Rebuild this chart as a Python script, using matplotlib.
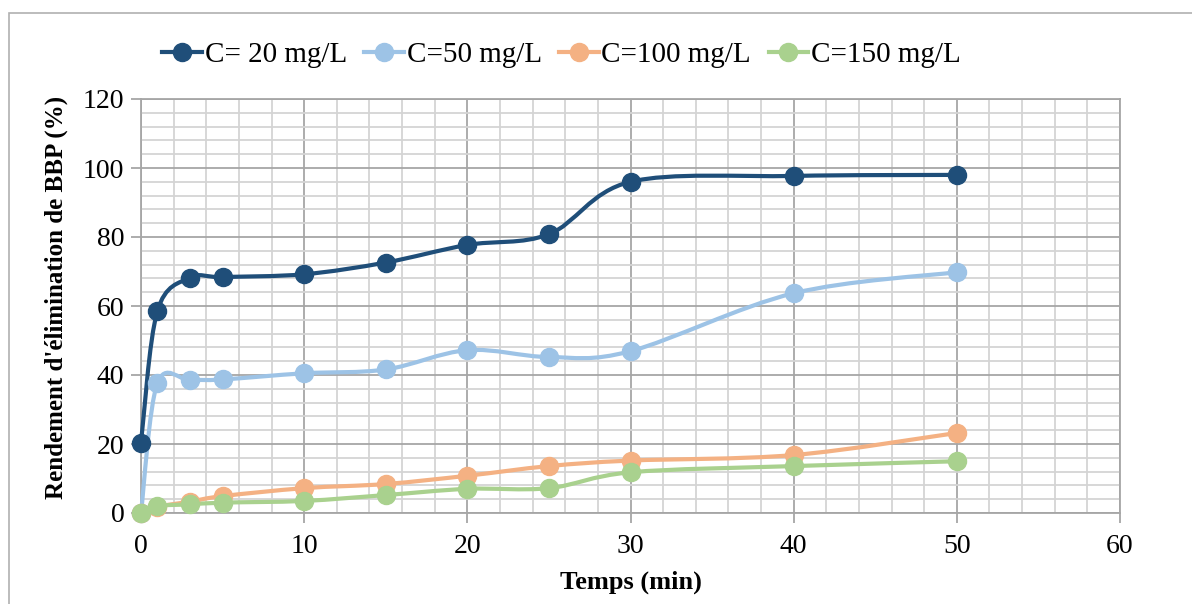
import matplotlib
matplotlib.use("Agg")
import matplotlib.pyplot as plt
import numpy as np
from matplotlib.path import Path
from matplotlib.patches import PathPatch, Rectangle
from matplotlib.lines import Line2D
from matplotlib.ticker import MultipleLocator

plt.rcParams['font.family'] = ['Liberation Serif', 'DejaVu Serif']

# Contact time (min)
temps = [0, 1, 3, 5, 10, 15, 20, 25, 30, 40, 50]

# Removal yield of BBP (%) for each initial concentration
c20 = [20.4, 58.5, 68.2, 68.4, 69.2, 72.6, 77.7, 80.8, 96.0, 97.7, 98.0]
c50 = [0.0, 37.6, 38.5, 38.7, 40.5, 41.6, 47.2, 45.2, 46.9, 63.7, 69.8]
c100 = [0.0, 1.8, 3.3, 4.9, 7.2, 8.4, 10.8, 13.6, 15.2, 16.8, 23.2]
c150 = [0.0, 2.0, 2.5, 3.0, 3.5, 5.2, 7.0, 7.2, 11.8, 13.6, 15.0]

labels = ["C= 20 mg/L", "C=50 mg/L", "C=100 mg/L", "C=150 mg/L"]
colors = ["#1F4E79", "#9DC3E6", "#F4B183", "#A9D18E"]
series = [c20, c50, c100, c150]


def smooth_path(xs, ys):
    """Cubic Bezier path through the points (cardinal-spline style smoothing)."""
    pts = np.column_stack([xs, ys]).astype(float)
    n = len(pts)
    verts = [pts[0]]
    codes = [Path.MOVETO]
    for i in range(n - 1):
        p0 = pts[i - 1] if i > 0 else pts[i]
        p1 = pts[i]
        p2 = pts[i + 1]
        p3 = pts[i + 2] if i + 2 < n else pts[i + 1]
        c1 = p1 + (p2 - p0) / 6.0
        c2 = p2 - (p3 - p1) / 6.0
        verts += [c1, c2, p2]
        codes += [Path.CURVE4] * 3
    return Path(verts, codes)


fig = plt.figure(figsize=(11.92, 6.04), dpi=100)
ax = fig.add_axes([141 / 1192, 1 - 513 / 604, (1120 - 141) / 1192, (513 - 99) / 604])

# outer chart frame
fig.patches.append(Rectangle((9 / 1192, -0.01), 1.0, 1 - 13 / 604 + 0.01,
                             transform=fig.transFigure, fill=False,
                             edgecolor="#b0b0b0", linewidth=1.2))

ax.set_xlim(0, 60)
ax.set_ylim(0, 120)
ax.xaxis.set_major_locator(MultipleLocator(10))
ax.xaxis.set_minor_locator(MultipleLocator(2))
ax.yaxis.set_major_locator(MultipleLocator(20))
ax.yaxis.set_minor_locator(MultipleLocator(4))
ax.grid(which="minor", color="#d4d4d4", linewidth=1.3)
ax.grid(which="major", color="#a6a6a6", linewidth=1.3)
ax.set_axisbelow(True)
for s in ax.spines.values():
    s.set_color("#a6a6a6")
    s.set_linewidth(1.3)

ax.tick_params(which="major", direction="out", length=7, width=1.3,
               color="#a6a6a6", labelsize=20)
ax.tick_params(axis="x", pad=8)
ax.tick_params(axis="y", pad=5)
ax.tick_params(which="minor", length=0)

handles = []
for ys, col, lab in zip(series, colors, labels):
    ax.add_patch(PathPatch(smooth_path(temps, ys), facecolor="none",
                           edgecolor=col, linewidth=3.0, zorder=3,
                           clip_on=False, capstyle="round"))
    ax.plot(temps, ys, linestyle="none", marker="o", markersize=13,
            color=col, zorder=4, clip_on=False)
    handles.append(Line2D([], [], color=col, linewidth=3.0, marker="o",
                          markersize=13))

ax.set_xlabel("Temps (min)", fontsize=19, fontweight="bold")
ax.set_ylabel("Rendement d'élimination de BBP (%)", fontsize=18,
              fontweight="bold")
ax.xaxis.set_label_coords(0.5, -0.138)
ax.yaxis.set_label_coords(-0.0745, 0.52)

fig.legend(handles, labels, loc="center", bbox_to_anchor=(0.471, 1 - 55 / 604),
           ncol=4, frameon=False, fontsize=21, handlelength=1.35,
           handletextpad=0.1, columnspacing=0.6, borderaxespad=0)

fig.savefig("out.png", dpi=100)
